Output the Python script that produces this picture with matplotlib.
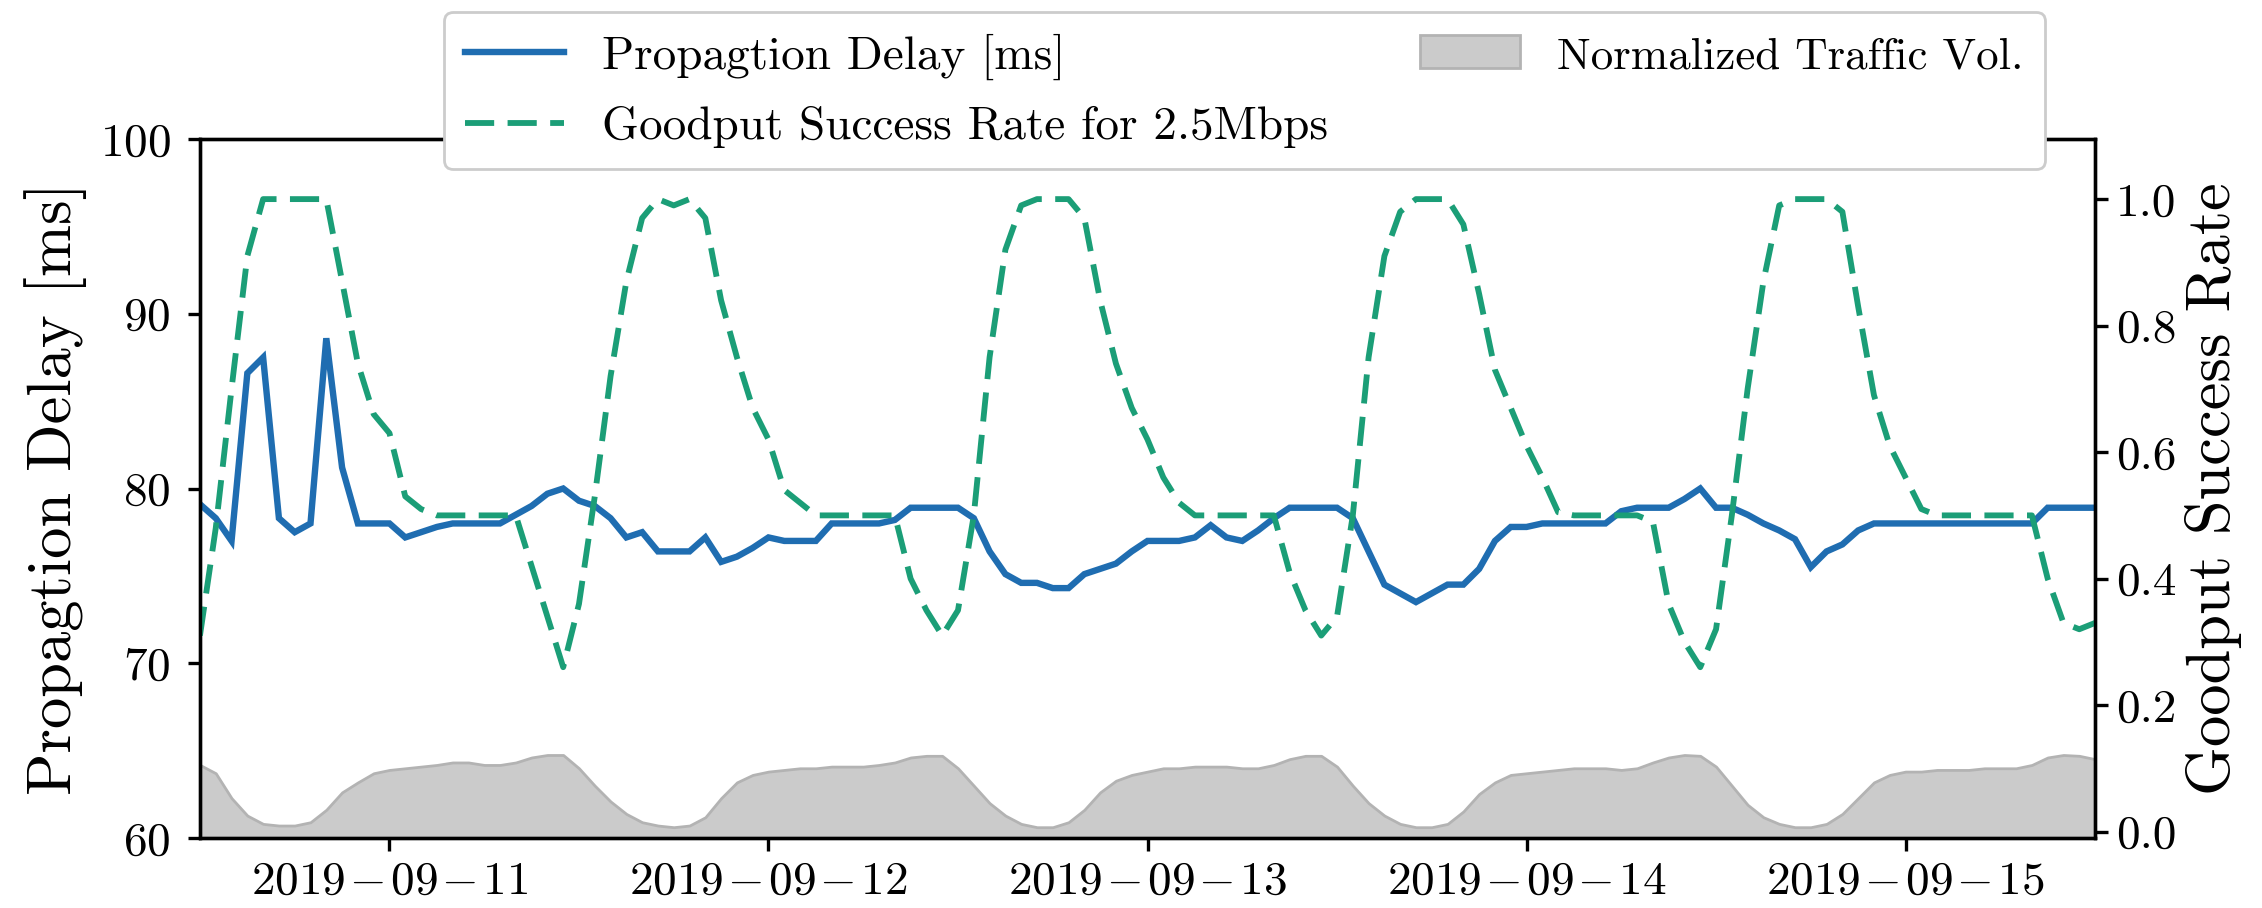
import matplotlib
matplotlib.use("Agg")
import matplotlib.pyplot as plt
import matplotlib.dates as mdates
from matplotlib.ticker import FuncFormatter, FormatStrFormatter
from matplotlib.patches import Patch
import pandas as pd

plt.rcParams['font.family'] = 'cmr10'
plt.rcParams['mathtext.fontset'] = 'cm'
plt.rcParams['axes.formatter.use_mathtext'] = True
plt.rcParams['axes.unicode_minus'] = False

# ---------------- data (hourly, 2019-09-10 12:00 .. 2019-09-15 12:00) ----------------
start_time = "2019-09-10 12:00"
n_points = 121

delay_ms = [
    79.1, 78.3, 77.0, 86.6, 87.5, 78.3, 77.5, 78.0, 88.6, 81.2,
    78.0, 78.0, 78.0, 77.2, 77.5, 77.8, 78.0, 78.0, 78.0, 78.0,
    78.5, 79.0, 79.7, 80.0, 79.3, 79.0, 78.3, 77.2, 77.5, 76.4,
    76.4, 76.4, 77.2, 75.8, 76.1, 76.6, 77.2, 77.0, 77.0, 77.0,
    78.0, 78.0, 78.0, 78.0, 78.2, 78.9, 78.9, 78.9, 78.9, 78.3,
    76.4, 75.1, 74.6, 74.6, 74.3, 74.3, 75.1, 75.4, 75.7, 76.4,
    77.0, 77.0, 77.0, 77.2, 77.9, 77.2, 77.0, 77.6, 78.3, 78.9,
    78.9, 78.9, 78.9, 78.3, 76.4, 74.5, 74.0, 73.5, 74.0, 74.5,
    74.5, 75.4, 77.0, 77.8, 77.8, 78.0, 78.0, 78.0, 78.0, 78.0,
    78.7, 78.9, 78.9, 78.9, 79.4, 80.0, 78.9, 78.9, 78.5, 78.0,
    77.6, 77.1, 75.5, 76.4, 76.8, 77.6, 78.0, 78.0, 78.0, 78.0,
    78.0, 78.0, 78.0, 78.0, 78.0, 78.0, 78.0, 78.9, 78.9, 78.9,
    78.9,
]

goodput_rate = [
    0.31, 0.48, 0.70, 0.91, 1.00, 1.00, 1.00, 1.00, 1.00, 0.87,
    0.74, 0.66, 0.63, 0.53, 0.51, 0.50, 0.50, 0.50, 0.50, 0.50,
    0.50, 0.42, 0.34, 0.26, 0.36, 0.53, 0.72, 0.87, 0.97, 1.00,
    0.99, 1.00, 0.97, 0.84, 0.75, 0.67, 0.62, 0.54, 0.52, 0.50,
    0.50, 0.50, 0.50, 0.50, 0.50, 0.40, 0.35, 0.31, 0.35, 0.50,
    0.75, 0.92, 0.99, 1.00, 1.00, 1.00, 0.97, 0.84, 0.74, 0.67,
    0.62, 0.56, 0.52, 0.50, 0.50, 0.50, 0.50, 0.50, 0.50, 0.41,
    0.35, 0.31, 0.34, 0.50, 0.75, 0.91, 0.98, 1.00, 1.00, 1.00,
    0.96, 0.85, 0.73, 0.67, 0.61, 0.56, 0.505, 0.50, 0.50, 0.50,
    0.50, 0.50, 0.49, 0.36, 0.30, 0.26, 0.32, 0.50, 0.70, 0.87,
    0.99, 1.00, 1.00, 1.00, 0.98, 0.83, 0.69, 0.61, 0.56, 0.51,
    0.50, 0.50, 0.50, 0.50, 0.50, 0.50, 0.50, 0.40, 0.33, 0.32,
    0.33,
]

traffic_norm = [
    0.88, 0.78, 0.48, 0.27, 0.17, 0.15, 0.15, 0.19, 0.34, 0.55,
    0.67, 0.78, 0.82, 0.84, 0.86, 0.88, 0.91, 0.91, 0.88, 0.88,
    0.91, 0.97, 1.00, 1.00, 0.84, 0.63, 0.44, 0.29, 0.19, 0.15,
    0.13, 0.15, 0.25, 0.48, 0.67, 0.76, 0.80, 0.82, 0.84, 0.84,
    0.86, 0.86, 0.86, 0.88, 0.91, 0.97, 0.99, 0.99, 0.84, 0.63,
    0.42, 0.27, 0.17, 0.13, 0.13, 0.19, 0.34, 0.55, 0.69, 0.76,
    0.80, 0.84, 0.84, 0.86, 0.86, 0.86, 0.84, 0.84, 0.88, 0.95,
    0.99, 0.99, 0.86, 0.63, 0.42, 0.27, 0.17, 0.13, 0.13, 0.17,
    0.32, 0.53, 0.67, 0.76, 0.78, 0.80, 0.82, 0.84, 0.84, 0.84,
    0.82, 0.84, 0.91, 0.97, 1.00, 0.99, 0.86, 0.63, 0.40, 0.25,
    0.17, 0.13, 0.13, 0.17, 0.29, 0.48, 0.67, 0.76, 0.80, 0.80,
    0.82, 0.82, 0.82, 0.84, 0.84, 0.84, 0.88, 0.97, 1.00, 0.99,
    0.95,
]

left_ticks = [60, 70, 80, 90, 100]
right_ticks = [0.0, 0.2, 0.4, 0.6, 0.8, 1.0]

label_delay = "Propagtion Delay [ms]"
label_goodput = "Goodput Success Rate for 2.5Mbps"
label_traffic = "Normalized Traffic Vol."
ylabel_left = "Propagtion Delay [ms]"
ylabel_right = "Goodput Success Rate"

# ---------------- styling ----------------
c_blue = "#1f6db1"
c_green = "#1b9e77"
c_fill = "#cbcbcb"
c_fill_edge = "#b3b3b3"
dash = (0, (5.0, 2.3))

times = pd.date_range(start_time, periods=n_points, freq="h")

fig = plt.figure(figsize=(11.31, 4.54), dpi=200)
fig.patch.set_facecolor("white")
ax = fig.add_axes([0.0884, 0.0771, 0.8378, 0.7698])
ax.patch.set_visible(False)

# traffic fill on a hidden axis underneath
ax3 = ax.twinx()
ax3.set_zorder(-1)
ax3.axis("off")
ax3.fill_between(times, 0, traffic_norm, facecolor=c_fill, edgecolor=c_fill_edge,
                 linewidth=1.0)
ax3.set_ylim(0, 40 / 4.75)

# delay line
ax.plot(times, delay_ms, color=c_blue, lw=2.3, solid_joinstyle="miter")
ax.set_ylim(60, 100)
ax.set_yticks(left_ticks)
ax.set_xlim(times[0], times[-1])

# goodput line
ax2 = ax.twinx()
ax2.plot(times, goodput_rate, color=c_green, lw=2.1, linestyle=dash)
ax2.set_ylim(-0.01, 1.095)
ax2.set_yticks(right_ticks)
ax2.yaxis.set_major_formatter(FormatStrFormatter("%.1f"))

sep = r"$\hspace{0.1}{-}\hspace{0.1}$"
ax.xaxis.set_major_locator(mdates.DayLocator())
ax.xaxis.set_major_formatter(FuncFormatter(
    lambda v, pos: mdates.num2date(v).strftime("%Y" + sep + "%m" + sep + "%d")))

for a in (ax, ax2):
    for s in a.spines.values():
        s.set_linewidth(1.2)
        s.set_color("black")
ax.tick_params(axis="both", labelsize=17, length=4.5, width=1.2, direction="out")
ax.tick_params(axis="y", pad=6)
ax.tick_params(axis="x", pad=4)
ax2.tick_params(axis="y", labelsize=17, length=4.5, width=1.2, direction="out", pad=3)

ax.set_ylabel(ylabel_left, fontsize=22.5)
ax.yaxis.set_label_coords(-0.0596, 0.5)
ax2.set_ylabel(ylabel_right, fontsize=22.5)
ax2.yaxis.set_label_coords(1.0475, 0.5)

# legend
h_delay = plt.Line2D([], [], color=c_blue, lw=2.3)
h_good = plt.Line2D([], [], color=c_green, lw=2.1, linestyle=dash)
h_traf = Patch(facecolor=c_fill, edgecolor=c_fill_edge, linewidth=1.0)
leg = fig.legend([h_delay, h_good, h_traf], [label_delay, label_goodput, label_traffic],
                 ncol=2, loc="upper left", bbox_to_anchor=(444 / 2262, 1 - 12 / 908),
                 bbox_transform=fig.transFigure, fontsize=17, handlelength=2.1,
                 handletextpad=0.8, columnspacing=1.95, borderpad=0.45,
                 labelspacing=0.56, framealpha=1, edgecolor="0.8", fancybox=True,
                 borderaxespad=0)
leg.get_texts()[2].set_fontsize(16.2)

fig.savefig("out.png", dpi=200, facecolor="white")
